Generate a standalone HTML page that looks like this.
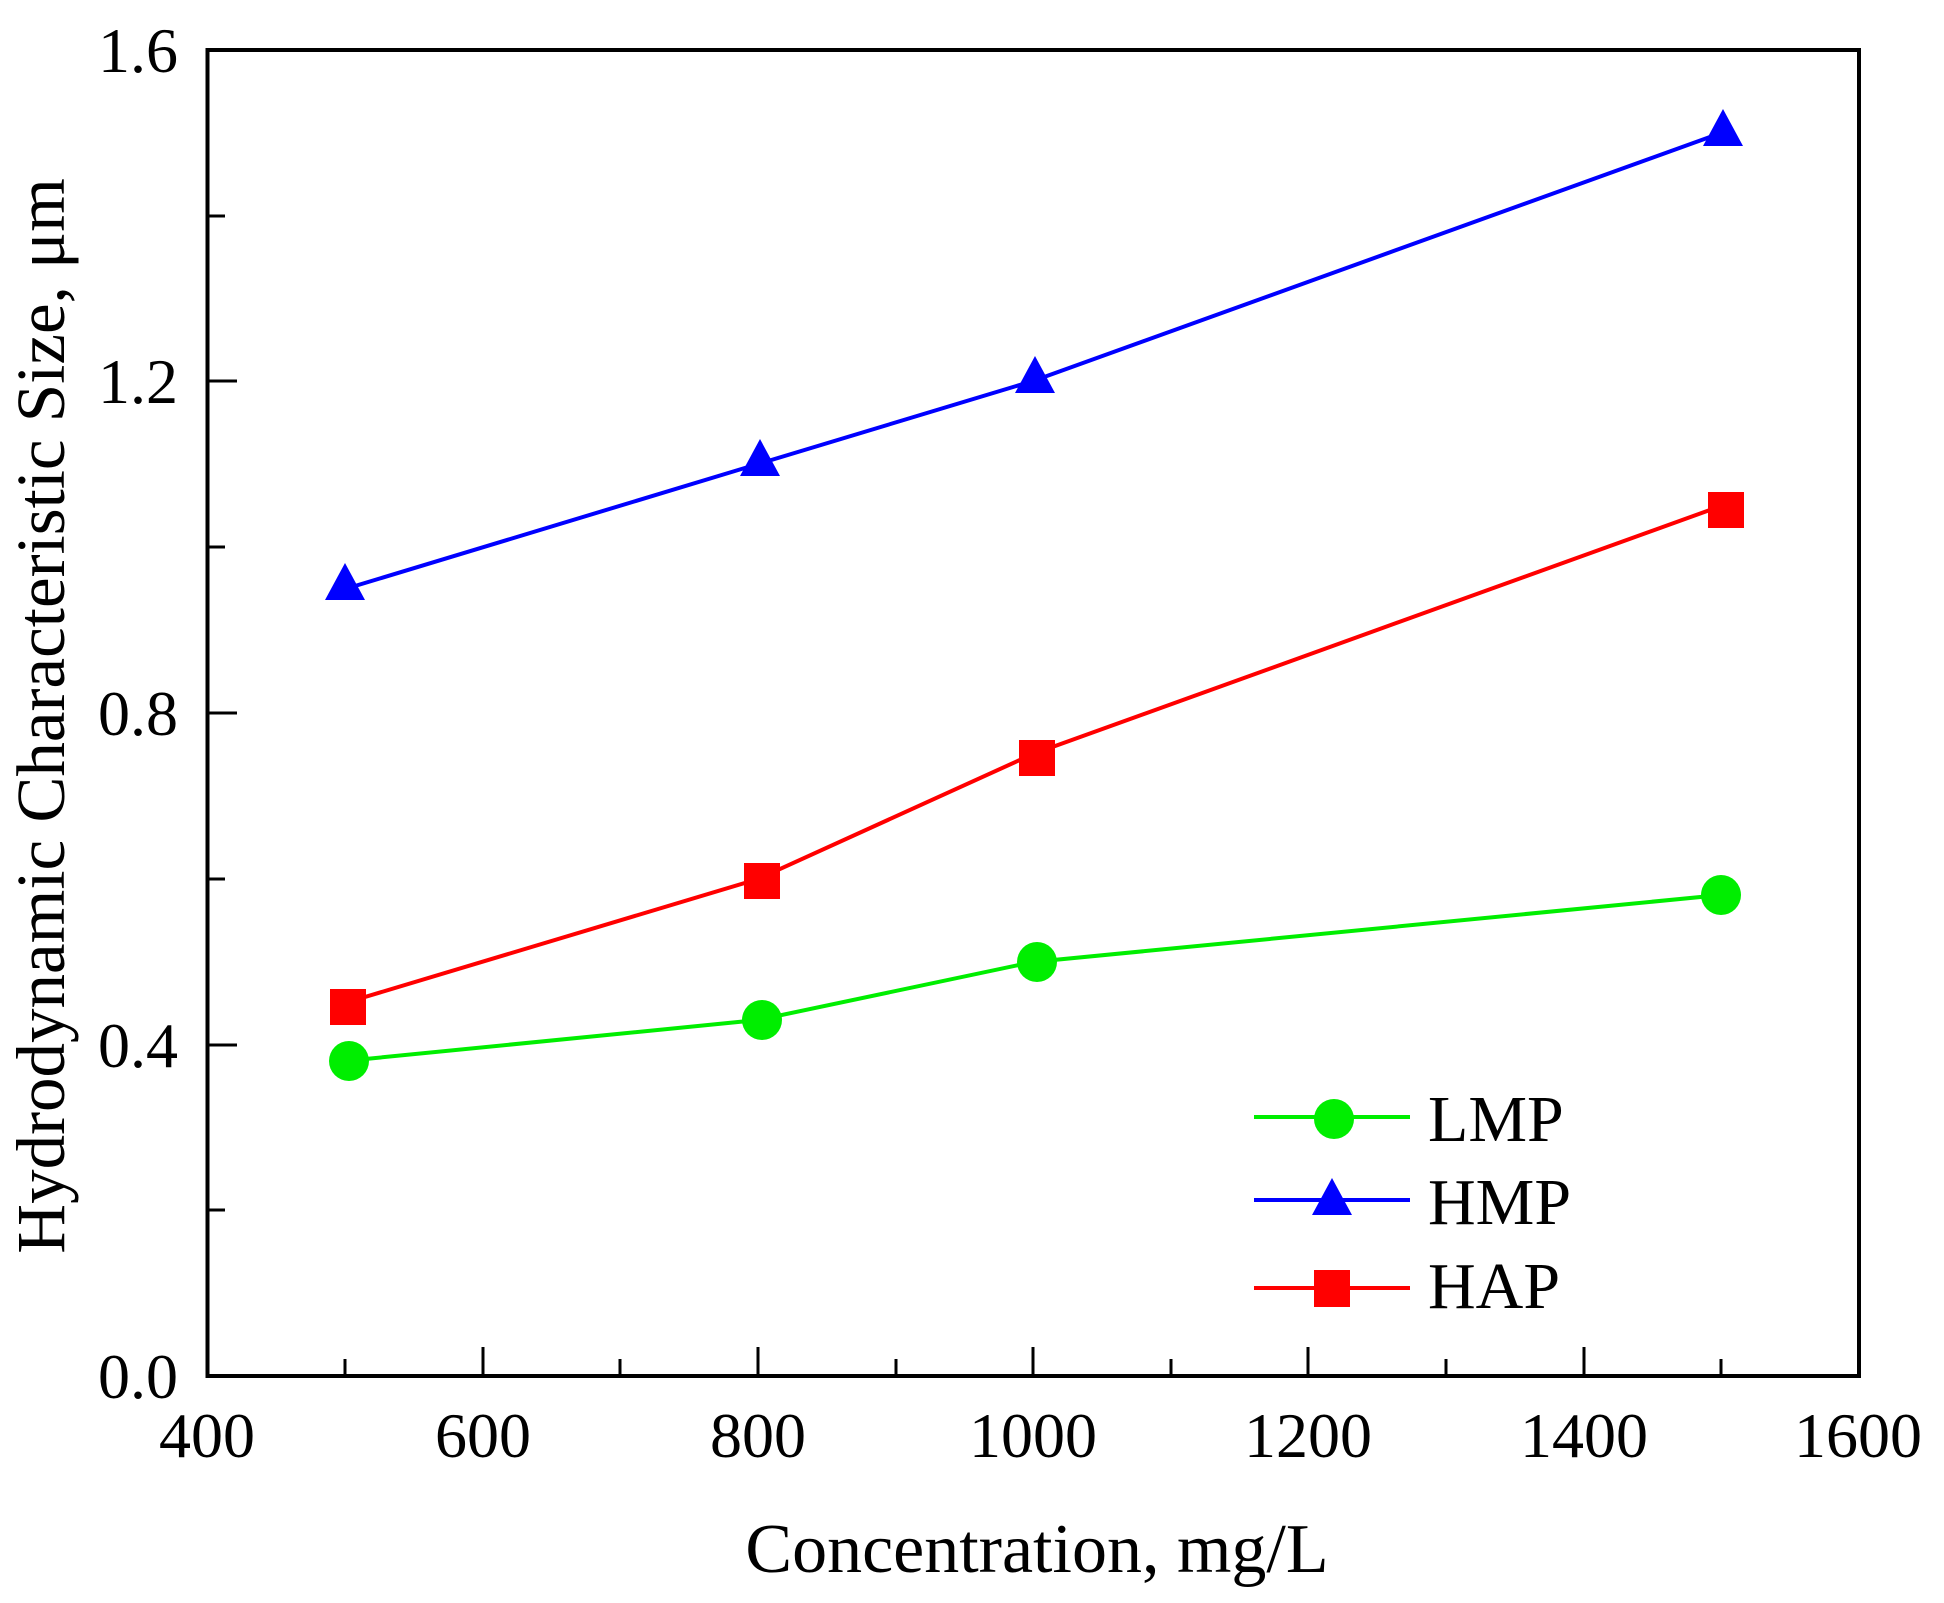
<!DOCTYPE html>
<html><head><style>body{margin:0;background:#fff}</style></head><body>
<svg width="1944" height="1598" xmlns="http://www.w3.org/2000/svg" font-family="Liberation Serif, serif">
<rect width="1944" height="1598" fill="#fff"/>
<g stroke="#000" stroke-width="3">
<line x1="345" y1="1376" x2="345" y2="1359"/>
<line x1="483" y1="1376" x2="483" y2="1347"/>
<line x1="620" y1="1376" x2="620" y2="1359"/>
<line x1="758" y1="1376" x2="758" y2="1347"/>
<line x1="896" y1="1376" x2="896" y2="1359"/>
<line x1="1033" y1="1376" x2="1033" y2="1347"/>
<line x1="1171" y1="1376" x2="1171" y2="1359"/>
<line x1="1308" y1="1376" x2="1308" y2="1347"/>
<line x1="1446" y1="1376" x2="1446" y2="1359"/>
<line x1="1584" y1="1376" x2="1584" y2="1347"/>
<line x1="1721" y1="1376" x2="1721" y2="1359"/>
<line x1="208" y1="1210" x2="225" y2="1210"/>
<line x1="208" y1="1045" x2="237" y2="1045"/>
<line x1="208" y1="879" x2="225" y2="879"/>
<line x1="208" y1="713" x2="237" y2="713"/>
<line x1="208" y1="547" x2="225" y2="547"/>
<line x1="208" y1="381" x2="237" y2="381"/>
<line x1="208" y1="216" x2="225" y2="216"/>
</g>
<rect x="207.5" y="50" width="1651.5" height="1326" fill="none" stroke="#000" stroke-width="4"/>
<g font-size="64" text-anchor="end">
<text x="178" y="1398">0.0</text>
<text x="178" y="1067">0.4</text>
<text x="178" y="735">0.8</text>
<text x="178" y="403">1.2</text>
<text x="178" y="72">1.6</text>
</g>
<g font-size="64" text-anchor="middle">
<text x="207" y="1457">400</text>
<text x="483" y="1457">600</text>
<text x="758" y="1457">800</text>
<text x="1033" y="1457">1000</text>
<text x="1308" y="1457">1200</text>
<text x="1584" y="1457">1400</text>
<text x="1858" y="1457">1600</text>
</g>
<text x="1037" y="1572" font-size="70" text-anchor="middle">Concentration, mg/L</text>
<text transform="translate(64,716) rotate(-90)" font-size="69" text-anchor="middle">Hydrodynamic Characteristic Size, μm</text>
<g fill="none" stroke-width="4">
<polyline stroke="#00ee00" points="345,1061 758,1020 1033,962 1721,895"/>
<polyline stroke="#0000ff" points="345,589 758,464 1033,381 1721,133"/>
<polyline stroke="#ff0000" points="345,1003 758,879 1033,754 1721,506"/>
</g>
<g fill="#00ee00">
<circle cx="349" cy="1061" r="20"/><circle cx="762" cy="1020" r="20"/><circle cx="1037" cy="962" r="20"/><circle cx="1721" cy="895" r="20"/>
</g>
<g fill="#0000ff">
<polygon points="345,563 325,600 365,600"/><polygon points="760,439 740,476 780,476"/><polygon points="1035,356 1015,393 1055,393"/><polygon points="1723,109 1703,146 1743,146"/>
</g>
<g fill="#ff0000">
<rect x="330" y="989" width="36" height="36"/><rect x="744" y="863" width="36" height="36"/><rect x="1019" y="740" width="36" height="36"/><rect x="1708" y="492" width="36" height="36"/>
</g>
<g stroke-width="4">
<line x1="1254" y1="1117" x2="1410" y2="1117" stroke="#00ee00"/>
<line x1="1254" y1="1200" x2="1410" y2="1200" stroke="#0000ff"/>
<line x1="1254" y1="1288" x2="1410" y2="1288" stroke="#ff0000"/>
</g>
<circle cx="1334" cy="1119" r="20" fill="#00ee00"/>
<polygon points="1332,1178 1312,1215 1352,1215" fill="#0000ff"/>
<rect x="1314" y="1270" width="36" height="37" fill="#ff0000"/>
<g font-size="66">
<text x="1428" y="1141">LMP</text>
<text x="1428" y="1224">HMP</text>
<text x="1428" y="1308">HAP</text>
</g>
</svg>
</body></html>
